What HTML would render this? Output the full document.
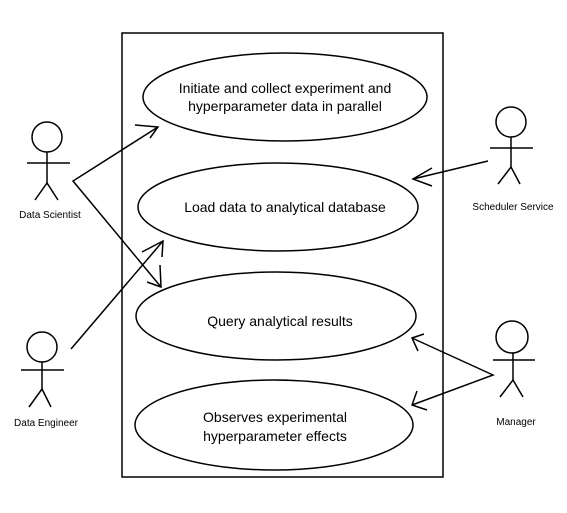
<!DOCTYPE html>
<html><head><style>body{margin:0;background:#fff}</style></head><body>
<svg width="567" height="508" xmlns="http://www.w3.org/2000/svg" font-family="Liberation Sans, sans-serif">
<rect width="567" height="508" fill="#fff"/>
<g fill="none" stroke="#000" stroke-width="1.5">
<rect x="122" y="33" width="321" height="444"/>
<ellipse cx="285" cy="97" rx="142" ry="44"/>
<ellipse cx="278" cy="207" rx="140" ry="44"/>
<ellipse cx="276" cy="316" rx="140" ry="44"/>
<ellipse cx="274" cy="425" rx="139" ry="45"/>
<!-- Data Scientist -->
<circle cx="47" cy="137" r="15"/><line x1="27" y1="163" x2="70" y2="163"/><line x1="47" y1="152" x2="47" y2="183"/><polyline points="35,200 47,183 58,200"/>
<!-- Data Engineer -->
<circle cx="42" cy="347" r="15"/><line x1="21" y1="370" x2="64" y2="370"/><line x1="42" y1="362" x2="42" y2="389"/><polyline points="29,407 42,389 51,407"/>
<!-- Scheduler -->
<circle cx="511" cy="122" r="15"/><line x1="490" y1="148" x2="533" y2="148"/><line x1="511" y1="137" x2="511" y2="167"/><polyline points="498,184 511,167 520,184"/>
<!-- Manager -->
<circle cx="512" cy="337" r="16"/><line x1="493" y1="360" x2="535" y2="360"/><line x1="513" y1="353" x2="513" y2="380"/><polyline points="500,397 513,380 523,397"/>
<!-- connectors -->
<polyline points="158,127 73,181 161,287"/>
<polyline points="135,125 158,127 150,138"/>
<polyline points="160,265 161,287 147,282"/>
<line x1="71" y1="349" x2="163" y2="241"/><polyline points="142,252 163,241 162,257"/>
<line x1="488" y1="161" x2="413" y2="179"/><polyline points="432,168 413,179 432,186"/>
<polyline points="412,338 493,375 412,405"/>
<polyline points="424,334 412,338 418,351"/>
<polyline points="417,391 412,405 427,410"/>
</g>
<g font-size="14" text-anchor="middle" fill="#000">
<text x="285" y="93">Initiate and collect experiment and</text>
<text x="285" y="111">hyperparameter data in parallel</text>
<text x="285" y="212">Load data to analytical database</text>
<text x="280" y="326">Query analytical results</text>
<text x="275" y="422">Observes experimental</text>
<text x="275" y="441">hyperparameter effects</text>
</g>
<g font-size="10" text-anchor="middle" fill="#000">
<text x="50" y="218">Data Scientist</text>
<text x="46" y="426">Data Engineer</text>
<text x="513" y="210">Scheduler Service</text>
<text x="516" y="425">Manager</text>
</g>
</svg>
</body></html>
